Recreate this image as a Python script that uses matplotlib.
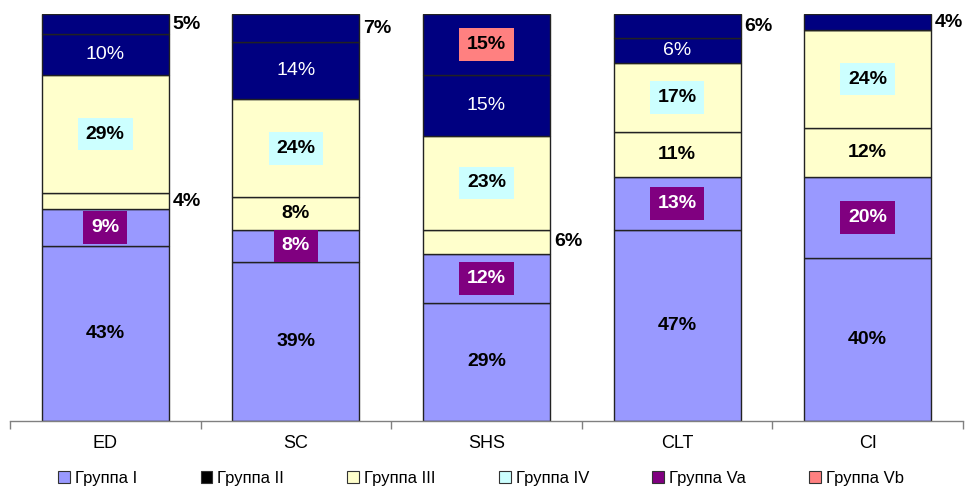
import matplotlib
matplotlib.use("Agg")
import matplotlib.pyplot as plt
from matplotlib.patches import Patch
import numpy as np

categories = ['ED', 'SC', 'SHS', 'CLT', 'CI']
grp_i = [43, 39, 29, 47, 40]
grp_va = [9, 8, 12, 13, 20]
grp_iii = [4, 8, 6, 11, 12]
grp_iv = [29, 24, 23, 17, 24]
grp_ii = [10, 14, 15, 6, 0]
grp_vb = [5, 7, 15, 6, 4]

legend_names = ['Группа I', 'Группа II', 'Группа III', 'Группа IV', 'Группа Va', 'Группа Vb']
legend_colors = ['#9999FF', '#000000', '#FFFFCC', '#CCFFFF', '#800080', '#FF8080']

plt.rcParams['font.family'] = ['Liberation Sans', 'DejaVu Sans']

W, H = 966, 488
fig = plt.figure(figsize=(W / 100, H / 100), dpi=100)
ax = fig.add_axes([10 / W, 1 - 421 / H, 953 / W, 407 / H])

x = np.arange(len(categories))
bw = 0.667

series = [
    (grp_i, '#9999FF', dict(color='black', fontweight='bold'), None, None),
    (grp_va, '#9999FF', dict(color='white', fontweight='bold'), '#800080', None),
    (grp_iii, '#FFFFCC', dict(color='black', fontweight='bold'), None, 8),
    (grp_iv, '#FFFFCC', dict(color='black', fontweight='bold'), '#CCFFFF', None),
    (grp_ii, '#000080', dict(color='white', fontweight='normal'), None, None),
    (grp_vb, '#000080', dict(color='black', fontweight='bold'), '#FF8080', 8),
]

FS = 14
bottom = np.zeros(len(categories))
for vals, fill, style, boxc, thr in series:
    vals = np.array(vals, dtype=float)
    ax.bar(x, vals, bw, bottom=bottom, color=fill, edgecolor='#222222',
           linewidth=1.0, zorder=2)
    for i, v in enumerate(vals):
        if v <= 0:
            continue
        yc = bottom[i] + v / 2
        txt = f'{int(v)}%'
        if thr is not None and v < thr:
            ax.text(x[i] + bw / 2 + 0.02, yc, txt, ha='left', va='center',
                    fontsize=FS, color='black', fontweight='bold', zorder=4)
        else:
            kw = dict(ha='center', va='center', fontsize=FS, zorder=4, **style)
            if boxc is not None:
                kw['bbox'] = dict(boxstyle='square,pad=0.4', fc=boxc, ec='none')
            ax.text(x[i], yc, txt, **kw)
    bottom += vals

ax.set_xlim(-0.5, len(categories) - 0.5)
ax.set_ylim(0, 100)
for s in ['top', 'left', 'right']:
    ax.spines[s].set_visible(False)
ax.spines['bottom'].set_color('#808080')
ax.spines['bottom'].set_linewidth(1.0)
ax.set_yticks([])
ax.set_xticks(x)
ax.set_xticklabels(categories, fontsize=13)
ax.tick_params(axis='x', which='major', length=0, pad=10)
ax.set_xticks(np.arange(-0.5, len(categories)), minor=True)
ax.tick_params(axis='x', which='minor', length=6, width=1, color='#808080', direction='out')

handles = [Patch(facecolor=c, edgecolor='#333333', linewidth=0.8) for c in legend_colors]
fig.legend(handles, legend_names, loc='center', bbox_to_anchor=(0.498, 1 - 478 / H),
           ncol=6, frameon=False, fontsize=12, handlelength=0.7, handleheight=0.7,
           handletextpad=0.3, columnspacing=3.8)

fig.savefig('out.png', dpi=100)
